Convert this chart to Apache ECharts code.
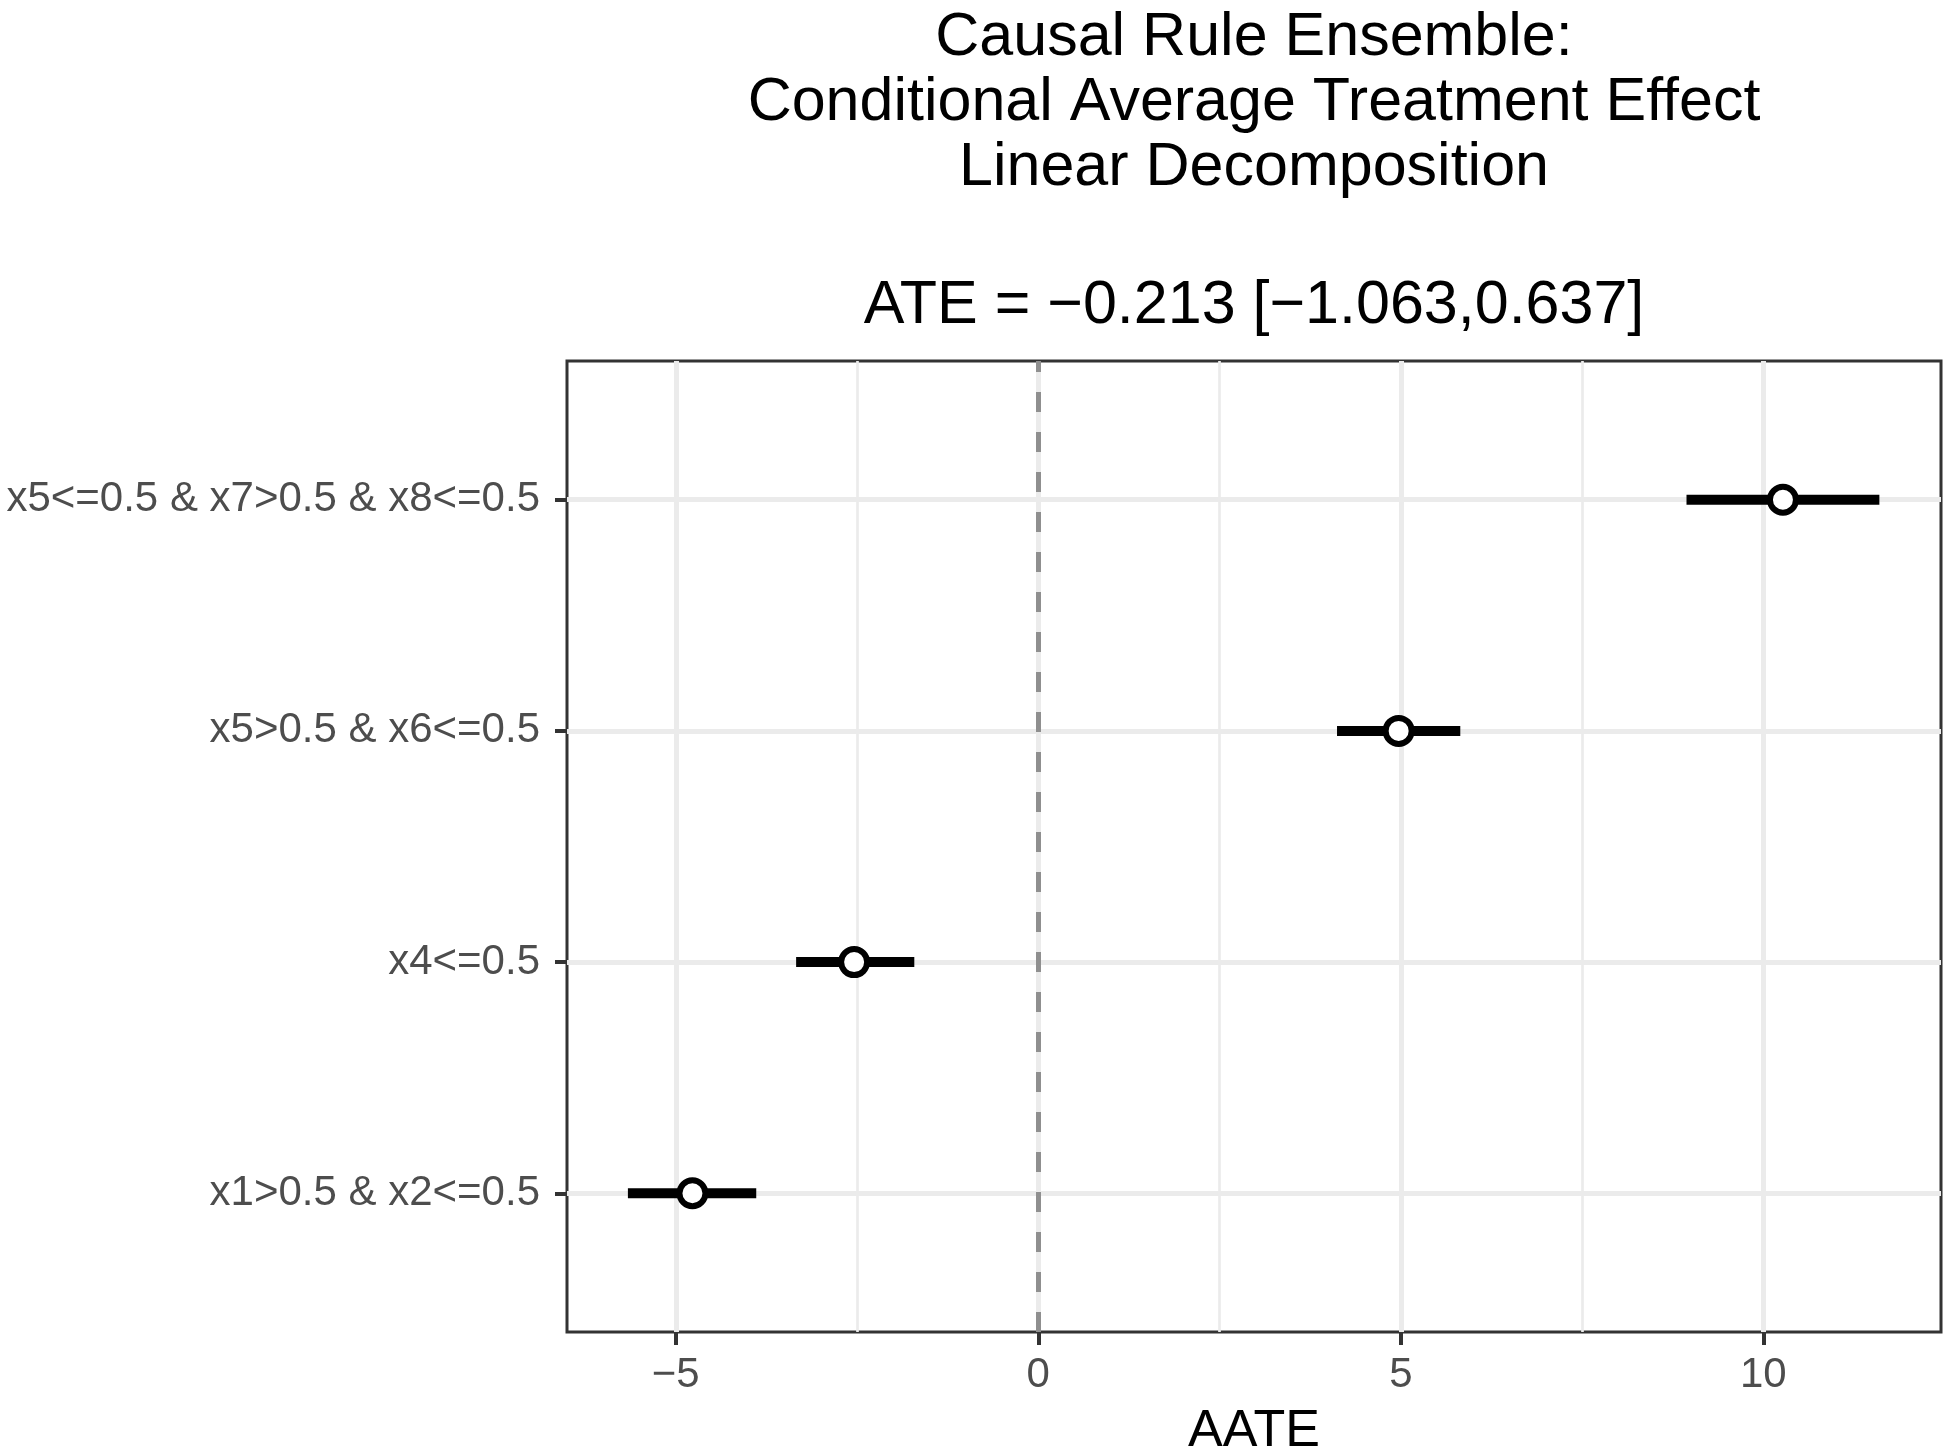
<!DOCTYPE html>
<html>
<head>
<meta charset="utf-8">
<title>Causal Rule Ensemble</title>
<script src="https://cdn.jsdelivr.net/npm/echarts@6/dist/echarts.min.js"></script>
<style>
  html, body { margin: 0; padding: 0; background: #fff; }
  #chart { width: 1950px; height: 1452px; }
</style>
</head>
<body>
<div id="chart"></div>
<script>
// rules from bottom (y = 1) to top (y = 4)
const rules = [
  "x1>0.5 & x2<=0.5",
  "x4<=0.5",
  "x5>0.5 & x6<=0.5",
  "x5<=0.5 & x7>0.5 & x8<=0.5"
];
const estimate = [-4.77, -2.54, 4.97, 10.27];
const lower = [-5.66, -3.34, 4.12, 8.94];
const upper = [-3.89, -1.71, 5.82, 11.60];
const xTicks = [-5, 0, 5, 10];
const yTicks = [1, 2, 3, 4];
const titleLines = [
  "Causal Rule Ensemble:",
  "Conditional Average Treatment Effect",
  "Linear Decomposition"
];
const ateLine = "ATE = \u22120.213 [\u22121.063,0.637]";

const FONT = '"Liberation Sans", Arial, Helvetica, sans-serif';

function fmtNum(v) {
  return v < 0 ? "\u2212" + Math.abs(v) : String(v);
}

var chartDom = document.getElementById("chart");
var myChart = echarts.init(chartDom, null, { renderer: "canvas" });

var option = {
  backgroundColor: "#ffffff",
  animation: false,
  graphic: [
    {
      type: "text",
      x: 1254,
      y: 6,
      style: {
        text: titleLines.join("\n"),
        fill: "#000000",
        fontSize: 61,
        fontFamily: FONT,
        lineHeight: 65,
        align: "center",
        verticalAlign: "top"
      }
    },
    {
      type: "text",
      x: 1254,
      y: 273,
      style: {
        text: ateLine,
        fill: "#000000",
        fontSize: 61,
        fontFamily: FONT,
        lineHeight: 67,
        align: "center",
        verticalAlign: "top"
      }
    }
  ],
  grid: {
    left: 567,
    right: 9,
    top: 361,
    bottom: 120,
    outerBoundsMode: "none",
    containLabel: false,
    show: true,
    borderColor: "#333333",
    borderWidth: 3,
    backgroundColor: "transparent"
  },
  xAxis: {
    type: "value",
    min: -6.5,
    max: 12.45,
    splitNumber: 4,
    name: "AATE",
    nameLocation: "middle",
    nameGap: 74,
    nameTextStyle: { color: "#000000", fontSize: 52, fontFamily: FONT },
    axisLine: { show: false, onZero: false },
    axisTick: {
      show: true,
      customValues: xTicks,
      length: 13,
      lineStyle: { color: "#333333", width: 4 }
    },
    axisLabel: {
      customValues: xTicks,
      formatter: fmtNum,
      color: "#4D4D4D",
      fontSize: 42,
      fontFamily: FONT,
      margin: 22
    },
    splitLine: { show: true, lineStyle: { color: "#EBEBEB", width: 5 } },
    minorTick: { show: false, splitNumber: 2 },
    minorSplitLine: { show: true, lineStyle: { color: "#EBEBEB", width: 2.7 } }
  },
  yAxis: {
    type: "value",
    min: 0.4,
    max: 4.6,
    axisLine: { show: false, onZero: false },
    axisTick: {
      show: true,
      customValues: yTicks,
      length: 12,
      lineStyle: { color: "#333333", width: 4 }
    },
    axisLabel: {
      customValues: yTicks,
      formatter: function (v) { return rules[Math.round(v) - 1] || ""; },
      color: "#4D4D4D",
      fontSize: 42,
      fontFamily: FONT,
      margin: 27
    },
    splitLine: { show: true, lineStyle: { color: "#EBEBEB", width: 5 } }
  },
  series: [
    {
      type: "custom",
      name: "interval",
      z: 3,
      encode: { x: [0, 1], y: 2 },
      data: rules.map(function (r, i) { return [lower[i], upper[i], i + 1]; }),
      renderItem: function (params, api) {
        var a = api.coord([api.value(0), api.value(2)]);
        var b = api.coord([api.value(1), api.value(2)]);
        return {
          type: "line",
          shape: { x1: a[0], y1: a[1], x2: b[0], y2: b[1] },
          style: { stroke: "#000000", lineWidth: 10, lineCap: "butt" }
        };
      },
      markLine: {
        silent: true,
        symbol: "none",
        label: { show: false },
        lineStyle: { color: "#8F8F8F", width: 5, type: [20, 20] },
        data: [{ xAxis: 0 }]
      }
    },
    {
      type: "scatter",
      name: "estimate",
      z: 4,
      symbol: "circle",
      symbolSize: 26,
      itemStyle: { color: "#ffffff", borderColor: "#000000", borderWidth: 6, opacity: 1 },
      data: estimate.map(function (v, i) { return [v, i + 1]; })
    }
  ]
};

myChart.setOption(option);
</script>
</body>
</html>
